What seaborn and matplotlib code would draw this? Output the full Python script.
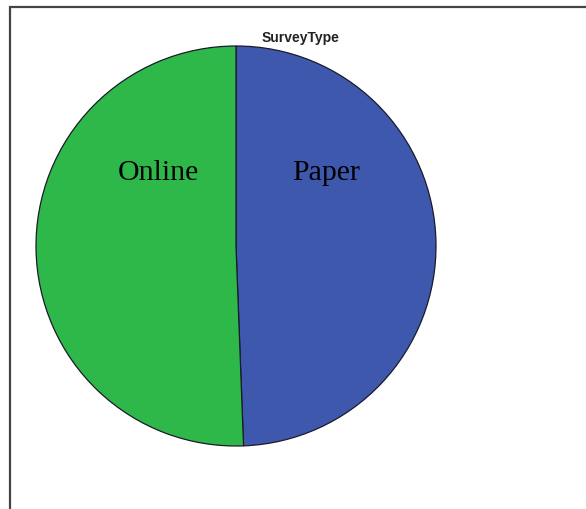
import matplotlib
matplotlib.use("Agg")
import matplotlib.pyplot as plt
import seaborn as sns
from matplotlib.patches import Rectangle

# survey type split (percent)
categories = ["Paper", "Online"]
shares = [49.4, 50.6]
colors = ["#3e58ad", "#2eb84a"]
title = "SurveyType"

sns.set_style("white")

W, H = 586, 509
fig = plt.figure(figsize=(W / 100, H / 100), dpi=100)

# pie centre ~ (236, 246) px, radius ~200 px
cx, cy, r = 236, 246, 200
ax = fig.add_axes([(cx - r) / W, (H - cy - r) / H, 2 * r / W, 2 * r / H])
wedges, _ = ax.pie(shares, colors=colors, startangle=90, counterclock=False,
                   wedgeprops=dict(edgecolor="#1a1a2a", linewidth=0.9))
ax.set_xlim(-1, 1)
ax.set_ylim(-1, 1)
ax.set_aspect("equal")
ax.axis("off")

# in-slice labels
label_pos = {"Paper": (0.45, 0.365), "Online": (-0.39, 0.365)}
for name in categories:
    x, y = label_pos[name]
    ax.text(x, y, name, ha="center", va="center", fontsize=21.5,
            family="Liberation Serif", color="black")

# title
fig.text(301 / W, 1 - 38 / H, title, ha="center", va="center",
         fontsize=10, fontweight="bold", family="Liberation Sans", color="#222222")

# outer frame (only top and left edges visible)
fig.add_artist(Rectangle((10 / W, -0.1), 1.2, 1 - 7 / H + 0.1,
                         transform=fig.transFigure, fill=False,
                         edgecolor="#444444", linewidth=1.6))

fig.savefig("out.png", dpi=100, facecolor="white")
